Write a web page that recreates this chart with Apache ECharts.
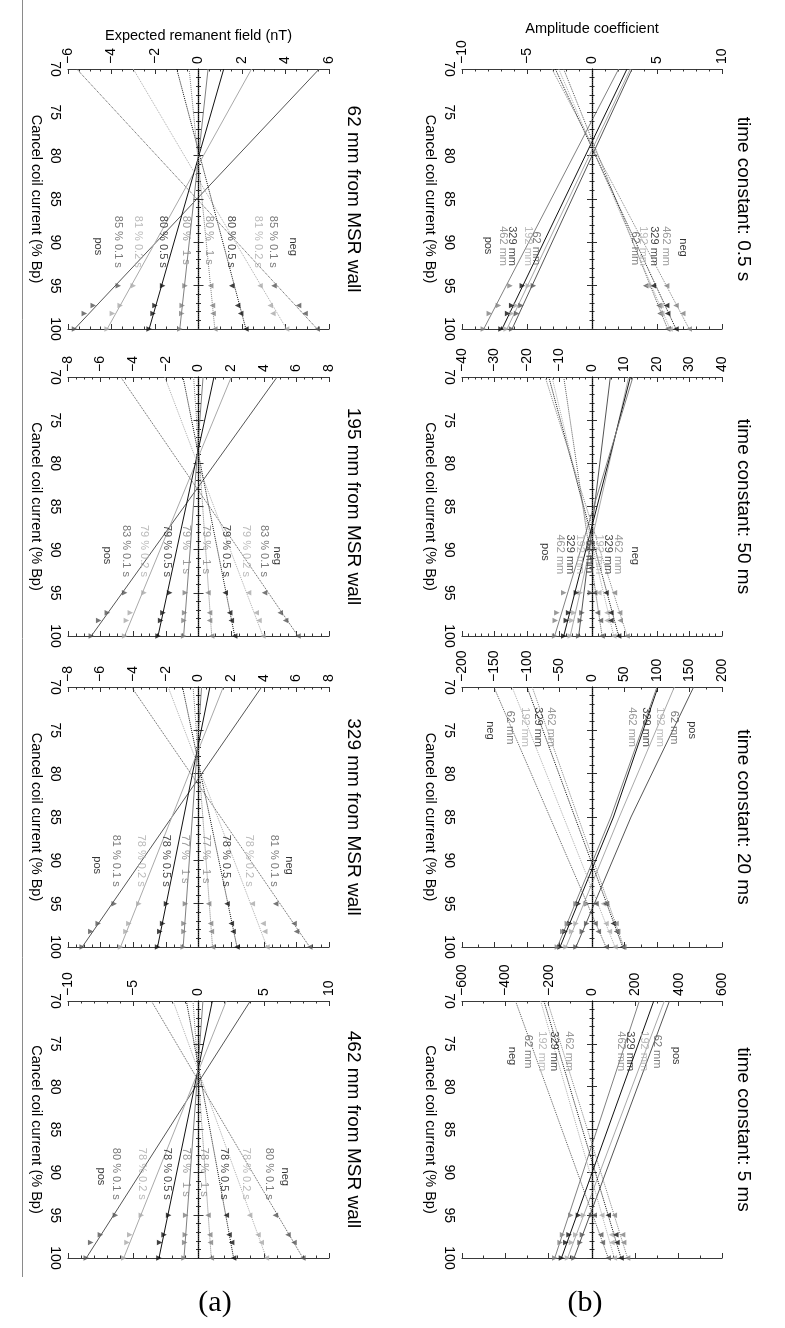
<!DOCTYPE html>
<html><head><meta charset="utf-8">
<script src="https://cdn.jsdelivr.net/npm/echarts@6/dist/echarts.min.js"></script>
<style>html,body{margin:0;padding:0;background:#fff}#c{width:785px;height:1328px}</style>
</head><body><div id="c"></div>
<script>
// ---------- shared values ----------
const MARKER_CURRENTS = [95, 97.3, 98.2, 100];
const LINE_CURRENTS_2 = [70, 100];
const LINE_CURRENTS_3 = [70, 85, 100];
const CURRENT_RANGE = [70, 100, 5];

// ---------- panel (a): expected remanent field (nT); line order 0.1 s, 0.2 s, 0.5 s, 1 s ----------
const A_TITLES = ['62 mm from MSR wall', '195 mm from MSR wall', '329 mm from MSR wall', '462 mm from MSR wall'];
const A_RANGES = [[-6, 6, 2], [-8, 8, 2], [-8, 8, 2], [-10, 10, 5]];

const A1_POS_LINE = [[5.55, -5.7], [2.44, -4.2], [1.16, -2.27], [0.44, -0.86]];
const A1_NEG_LINE = [[-5.6, 5.46], [-3.0, 4.05], [-1.0, 2.18], [-0.43, 0.75]];
const A1_POS_MARK = [[-3.69, -4.84, -5.25, -5.7], [-3.0, -3.6, -3.96, -4.2], [-1.65, -2.0, -2.09, -2.27], [-0.62, -0.75, -0.77, -0.86]];
const A1_NEG_MARK = [[3.47, 4.6, 4.9, 5.46], [2.83, 3.3, 3.42, 4.05], [1.53, 1.8, 1.94, 2.18], [0.56, 0.64, 0.67, 0.75]];
const A1_LABELS = [['neg', 4.35, 89.5, 4], ['85 % 0.1 s', 3.43, 87.0, 0], ['81 % 0.2 s', 2.74, 87.0, 1], ['80 % 0.5 s', 1.52, 87.0, 2], ['80 %   1 s', 0.52, 87.0, 3],
  ['80 %   1 s', -0.55, 87.0, 3], ['80 % 0.5 s', -1.62, 87.0, 2], ['81 % 0.2 s', -2.77, 87.0, 1], ['85 % 0.1 s', -3.69, 87.0, 0], ['pos', -4.61, 89.5, 4]];

const A2_POS_LINE = [[4.82, -6.57], [2.01, -4.53], [0.95, -2.48], [0.28, -0.91]];
const A2_NEG_LINE = [[-4.77, 6.1], [-2.07, 3.95], [-0.95, 2.22], [-0.3, 0.81]];
const A2_POS_MARK = [[-4.53, -5.59, -6.12, -6.57], [-3.34, -4.18, -4.42, -4.53], [-1.77, -2.18, -2.32, -2.48], [-0.81, -0.85, -0.89, -0.91]];
const A2_NEG_MARK = [[4.05, 5.01, 5.34, 6.1], [3.07, 3.54, 3.71, 3.95], [1.64, 1.91, 2.01, 2.22], [0.58, 0.68, 0.68, 0.81]];
const A2_LABELS = [['neg', 4.87, 89.7, 4], ['83 % 0.1 s', 4.06, 87.2, 0], ['79 % 0.2 s', 2.93, 87.2, 1], ['79 % 0.5 s', 1.71, 87.2, 2], ['79 %   1 s', 0.48, 87.2, 3],
  ['79 %   1 s', -0.75, 87.2, 3], ['79 % 0.5 s', -1.87, 87.2, 2], ['79 % 0.2 s', -3.3, 87.2, 1], ['83 % 0.1 s', -4.42, 87.2, 0], ['pos', -5.55, 89.7, 4]];

const A3_POS_LINE = [[3.87, -7.13], [1.52, -4.78], [0.7, -2.51], [0.19, -0.94]];
const A3_NEG_LINE = [[-4.11, 6.82], [-1.86, 4.2], [-0.98, 2.36], [-0.33, 0.86]];
const A3_POS_MARK = [[-5.17, -6.15, -6.6, -7.13], [-3.66, -4.27, -4.45, -4.78], [-1.96, -2.2, -2.37, -2.51], [-0.8, -0.89, -0.89, -0.94]];
const A3_NEG_MARK = [[4.73, 5.86, 6.01, 6.82], [3.3, 3.96, 4.06, 4.2], [1.75, 2.01, 2.12, 2.36], [0.62, 0.74, 0.79, 0.86]];
const A3_LABELS = [['neg', 5.55, 89.6, 4], ['81 % 0.1 s', 4.67, 87.1, 0], ['78 % 0.2 s', 3.14, 87.1, 1], ['78 % 0.5 s', 1.71, 87.1, 2], ['77 %   1 s', 0.48, 87.1, 3],
  ['77 %   1 s', -0.79, 87.1, 3], ['78 % 0.5 s', -1.97, 87.1, 2], ['78 % 0.2 s', -3.5, 87.1, 1], ['81 % 0.1 s', -5.0, 87.1, 0], ['pos', -6.16, 89.6, 4]];

const A4_POS_LINE = [[3.97, -8.6], [2.13, -5.73], [1.06, -3.03], [0.34, -1.11]];
const A4_NEG_LINE = [[-3.61, 8.0], [-1.95, 5.2], [-0.93, 2.69], [-0.42, 0.98]];
const A4_POS_MARK = [[-6.37, -7.52, -8.26, -8.6], [-4.38, -5.27, -5.48, -5.73], [-2.29, -2.64, -2.98, -3.03], [-0.98, -1.01, -1.06, -1.11]];
const A4_NEG_MARK = [[5.89, 6.86, 7.32, 8.0], [3.92, 4.56, 4.81, 5.2], [2.13, 2.34, 2.54, 2.69], [0.73, 0.86, 0.91, 0.98]];
const A4_LABELS = [['neg', 6.68, 89.5, 4], ['80 % 0.1 s', 5.45, 87.2, 0], ['78 % 0.2 s', 3.67, 87.2, 1], ['78 % 0.5 s', 2.0, 87.2, 2], ['78 %   1 s', 0.47, 87.2, 3],
  ['78 %   1 s', -0.93, 87.2, 3], ['78 % 0.5 s', -2.34, 87.2, 2], ['78 % 0.2 s', -4.3, 87.2, 1], ['80 % 0.1 s', -6.25, 87.2, 0], ['pos', -7.45, 89.5, 4]];

// ---------- panel (b): amplitude coefficient; line order 62, 192, 329, 462 mm ----------
const B_TITLES = ['time constant: 0.5 s', 'time constant: 50 ms', 'time constant: 20 ms', 'time constant: 5 ms'];
const B_RANGES = [[-10, 10, 5], [-40, 40, 10], [-200, 200, 50], [-600, 600, 200]];

const B1_POS_LINE = [[3.08, -6.15], [2.95, -6.54], [2.69, -6.92], [2.05, -8.33]];
const B1_NEG_LINE = [[-2.18, 5.82], [-2.56, 6.0], [-2.82, 6.46], [-3.08, 7.48]];
const B1_POS_MARK = [[-4.51, -5.46, -5.8, -6.18], [-4.9, -5.85, -6.18, -6.6], [-5.36, -6.18, -6.49, -7.0], [-6.31, -7.2, -7.9, -8.36]];
const B1_NEG_MARK = [[4.13, 5.15, 5.23, 5.82], [4.33, 5.3, 5.36, 6.0], [4.72, 5.74, 5.82, 6.46], [5.74, 6.46, 6.98, 7.48]];
const B1_LABELS = [['neg', 7.05, 89.6, 4], ['462 mm', 5.77, 88.2, 3], ['329 mm', 4.79, 88.2, 2], ['192 mm', 3.97, 88.2, 1], ['62 mm', 3.33, 88.8, 0],
  ['62 mm', -4.23, 88.8, 0], ['192 mm', -4.87, 88.2, 1], ['329 mm', -6.15, 88.2, 2], ['462 mm', -6.79, 88.2, 3], ['pos', -7.95, 89.4, 4]];

const B2_POS_LINE = [[5.64, -4.1], [11.28, -6.7], [11.8, -8.7], [12.6, -11.5]];
const B2_NEG_LINE = [[-8.7, 3.1], [-12.3, 6.7], [-13.3, 8.2], [-14.4, 10.8]];
const B2_POS_MARK = [[-0.5, -3.1, -3.6, -4.1], [-3.6, -5.6, -6.2, -6.7], [-4.8, -7.2, -7.9, -8.7], [-8.7, -10.8, -11.3, -11.5]];
const B2_NEG_MARK = [[0.8, 1.7, 2.6, 3.1], [2.1, 4.6, 4.6, 6.7], [4.3, 5.8, 5.8, 8.2], [6.9, 8.5, 8.7, 10.8]];
const B2_LABELS = [['neg', 13.3, 89.7, 4], ['462 mm', 8.2, 88.3, 3], ['329 mm', 5.1, 88.3, 2], ['192 mm', 2.3, 88.3, 1], ['62 mm', -0.5, 88.9, 0],
  ['62 mm', -0.7, 88.9, 0], ['192 mm', -3.6, 88.3, 1], ['329 mm', -6.7, 88.3, 2], ['462 mm', -9.7, 88.3, 3], ['pos', -14.2, 89.3, 4]];

const B3_POS_LINE = [[156.4, 60, -24.6], [126.7, 42, -40], [101.5, 33, -49.2], [100, 29, -53.3]];
const B3_NEG_LINE = [[-151, -64.8, 21.5], [-123, -43.8, 35.4], [-100, -26.4, 47.2], [-92, -21.5, 49]];
const B3_POS_MARK = [[-8, -8.2, -14.9, -24.6], [-9.7, -24.6, -31.3, -40], [-21, -33.8, -41.5, -49.2], [-24.6, -38, -45, -53.3]];
const B3_NEG_MARK = [[6.2, 4.6, 9.7, 21.5], [17.4, 21.5, 26.7, 35.4], [21.5, 32.8, 38, 47.2], [22.5, 36.9, 39.5, 49]];
const B3_LABELS = [['pos', 155, 74.0, 4], ['62 mm', 126.7, 72.8, 0], ['192 mm', 105, 72.4, 1], ['329 mm', 84.6, 72.4, 2], ['462 mm', 63, 72.4, 3],
  ['462 mm', -61.5, 72.4, 3], ['329 mm', -82, 72.4, 2], ['192 mm', -102.6, 72.4, 1], ['62 mm', -125.6, 72.8, 0], ['neg', -156.4, 74.0, 4]];

const B4_POS_LINE = [[357.5, -83], [334, -113], [285, -141], [218.5, -172]];
const B4_NEG_LINE = [[-353, 75], [-237, 103], [-222, 134], [-206, 164]];
const B4_POS_MARK = [[-2, -44, -55, -83], [-39, -75, -95, -113], [-62.5, -106, -121, -141], [-98, -136, -147, -172]];
const B4_NEG_MARK = [[10, 40, 48, 75], [45, 90, 92, 103], [75, 110, 115, 134], [103, 141, 146, 164]];
const B4_LABELS = [['pos', 388, 75.4, 4], ['62 mm', 303, 74.0, 0], ['192 mm', 242, 73.6, 1], ['329 mm', 180, 73.6, 2], ['462 mm', 134, 73.6, 3],
  ['462 mm', -106, 73.6, 3], ['329 mm', -175, 73.6, 2], ['192 mm', -229, 73.6, 1], ['62 mm', -294, 74.0, 0], ['neg', -368, 75.4, 4]];

// ---------- styling / layout ----------
const FONT = '"Liberation Sans", Arial, Helvetica, sans-serif';
const COLORS = ['#555555', '#a9a9a9', '#111111', '#808080', '#000000'];
const COL_LEFT = [68, 462];
const COL_WIDTH = [261, 260];
const ROW_TOP = [69, 377, 687, 1001];
const ROW_HEIGHT = [260, 259, 260, 257];
const COL_TITLE_X = [353, 743];
const MINOR_SPLIT = { 2: 4, 5: 5, 10: 5, 50: 2, 200: 2 };

const panels = [
  { col: 0, row: 0, title: A_TITLES[0], range: A_RANGES[0], lc: LINE_CURRENTS_2, pl: A1_POS_LINE, nl: A1_NEG_LINE, pm: A1_POS_MARK, nm: A1_NEG_MARK, lab: A1_LABELS, yname: 'Expected remanent field (nT)' },
  { col: 0, row: 1, title: A_TITLES[1], range: A_RANGES[1], lc: LINE_CURRENTS_2, pl: A2_POS_LINE, nl: A2_NEG_LINE, pm: A2_POS_MARK, nm: A2_NEG_MARK, lab: A2_LABELS },
  { col: 0, row: 2, title: A_TITLES[2], range: A_RANGES[2], lc: LINE_CURRENTS_2, pl: A3_POS_LINE, nl: A3_NEG_LINE, pm: A3_POS_MARK, nm: A3_NEG_MARK, lab: A3_LABELS },
  { col: 0, row: 3, title: A_TITLES[3], range: A_RANGES[3], lc: LINE_CURRENTS_2, pl: A4_POS_LINE, nl: A4_NEG_LINE, pm: A4_POS_MARK, nm: A4_NEG_MARK, lab: A4_LABELS },
  { col: 1, row: 0, title: B_TITLES[0], range: B_RANGES[0], lc: LINE_CURRENTS_2, pl: B1_POS_LINE, nl: B1_NEG_LINE, pm: B1_POS_MARK, nm: B1_NEG_MARK, lab: B1_LABELS, yname: 'Amplitude coefficient' },
  { col: 1, row: 1, title: B_TITLES[1], range: B_RANGES[1], lc: LINE_CURRENTS_2, pl: B2_POS_LINE, nl: B2_NEG_LINE, pm: B2_POS_MARK, nm: B2_NEG_MARK, lab: B2_LABELS },
  { col: 1, row: 2, title: B_TITLES[2], range: B_RANGES[2], lc: LINE_CURRENTS_3, pl: B3_POS_LINE, nl: B3_NEG_LINE, pm: B3_POS_MARK, nm: B3_NEG_MARK, lab: B3_LABELS },
  { col: 1, row: 3, title: B_TITLES[3], range: B_RANGES[3], lc: LINE_CURRENTS_2, pl: B4_POS_LINE, nl: B4_NEG_LINE, pm: B4_POS_MARK, nm: B4_NEG_MARK, lab: B4_LABELS }
];

const fmt = v => (v < 0 ? '\u2212' + (-v) : String(v));
const AXIS_LINE = { show: true, lineStyle: { color: '#3a3a3a', width: 1.2 } };

const grid = [], xAxis = [], yAxis = [], series = [], graphic = [];

panels.forEach((p, gi) => {
  grid.push({ left: COL_LEFT[p.col], top: ROW_TOP[p.row], width: COL_WIDTH[p.col], height: ROW_HEIGHT[p.row] });
  const [mn, mx, iv] = p.range;
  const common = { type: 'value', gridIndex: gi, min: mn, max: mx, interval: iv, splitLine: { show: false }, axisLine: AXIS_LINE,
    axisTick: { show: true, inside: true, length: 5, lineStyle: { color: '#333' } },
    minorTick: { show: true, splitNumber: MINOR_SPLIT[iv], length: 2.5, lineStyle: { color: '#333' } } };
  xAxis.push(Object.assign({}, common, { position: 'top',
    axisLabel: { show: true, rotate: -90, margin: 5, fontSize: 14, color: '#000', fontFamily: FONT, formatter: fmt, showMinLabel: true, showMaxLabel: true },
    name: p.yname || '', nameLocation: 'middle', nameGap: 26, nameTextStyle: { fontSize: 14.5, color: '#000', fontFamily: FONT } }));
  xAxis.push(Object.assign({}, common, { position: 'bottom', axisLabel: { show: false } }));
  const [cmn, cmx, civ] = CURRENT_RANGE;
  const ycommon = { type: 'value', gridIndex: gi, min: cmn, max: cmx, interval: civ, inverse: true, splitLine: { show: false }, axisLine: AXIS_LINE,
    axisTick: { show: true, inside: true, length: 5, lineStyle: { color: '#333' } },
    minorTick: { show: true, splitNumber: 5, length: 2.5, lineStyle: { color: '#333' } } };
  yAxis.push(Object.assign({}, ycommon, { position: 'left',
    axisLabel: { show: true, rotate: -90, margin: 6, fontSize: 14, color: '#000', fontFamily: FONT, showMinLabel: true, showMaxLabel: true },
    name: 'Cancel coil current (% Bp)', nameLocation: 'middle', nameGap: 25, nameRotate: -90,
    nameTextStyle: { fontSize: 14.5, color: '#000', fontFamily: FONT } }));
  yAxis.push(Object.assign({}, ycommon, { position: 'right', axisLabel: { show: false } }));

  const xi = 2 * gi, yi = 2 * gi;
  p.pl.forEach((vals, k) => series.push({ type: 'line', xAxisIndex: xi, yAxisIndex: yi, silent: true, symbol: 'none', z: 3,
    data: vals.map((v, j) => [v, p.lc[j]]), lineStyle: { color: COLORS[k], width: 1, type: 'solid' } }));
  p.nl.forEach((vals, k) => series.push({ type: 'line', xAxisIndex: xi, yAxisIndex: yi, silent: true, symbol: 'none', z: 3,
    data: vals.map((v, j) => [v, p.lc[j]]), lineStyle: { color: COLORS[k], width: 1, type: 'dotted' } }));
  p.pm.forEach((vals, k) => series.push({ type: 'scatter', xAxisIndex: xi, yAxisIndex: yi, silent: true, clip: false, z: 4,
    symbol: 'triangle', symbolRotate: -90, symbolSize: 5.5, itemStyle: { color: COLORS[k] },
    data: vals.map((v, j) => [v, MARKER_CURRENTS[j]]) }));
  p.nm.forEach((vals, k) => series.push({ type: 'scatter', xAxisIndex: xi, yAxisIndex: yi, silent: true, clip: false, z: 4,
    symbol: 'triangle', symbolRotate: 90, symbolSize: 5.5, itemStyle: { color: COLORS[k] },
    data: vals.map((v, j) => [v, MARKER_CURRENTS[j]]) }));
  series.push({ type: 'scatter', xAxisIndex: xi, yAxisIndex: yi, silent: true, clip: false, z: 5,
    symbolSize: 1, itemStyle: { color: 'rgba(0,0,0,0)' },
    label: { show: true, formatter: '{b}', rotate: -90, position: [0, 0], align: 'left', verticalAlign: 'middle', fontSize: 11, fontFamily: FONT },
    data: p.lab.map(l => ({ name: l[0], value: [l[1], l[2]], label: { color: COLORS[l[3]] } })),
    markLine: { silent: true, symbol: 'none', label: { show: false }, lineStyle: { color: '#000', width: 1, type: 'dotted' }, data: [{ xAxis: 0 }] } });

  graphic.push({ type: 'text', x: COL_TITLE_X[p.col], y: ROW_TOP[p.row] + ROW_HEIGHT[p.row] / 2, rotation: -Math.PI / 2,
    style: { text: p.title, font: '19px ' + FONT, fill: '#000', textAlign: 'center', textVerticalAlign: 'middle', align: 'center', verticalAlign: 'middle' } });
});

const SERIF = '30px "Liberation Serif", "Times New Roman", serif';
graphic.push({ type: 'text', x: 215, y: 1303, style: { text: '(a)', font: SERIF, fill: '#000', textAlign: 'center', textVerticalAlign: 'middle', align: 'center', verticalAlign: 'middle' } });
graphic.push({ type: 'text', x: 585, y: 1303, style: { text: '(b)', font: SERIF, fill: '#000', textAlign: 'center', textVerticalAlign: 'middle', align: 'center', verticalAlign: 'middle' } });
graphic.push({ type: 'line', shape: { x1: 22.5, y1: 0, x2: 22.5, y2: 1277 }, style: { stroke: '#8a8a8a', lineWidth: 1 } });

const chart = echarts.init(document.getElementById('c'), null, { renderer: 'canvas' });
chart.setOption({ animation: false, backgroundColor: '#fff', grid, xAxis, yAxis, series, graphic });
</script></body></html>
